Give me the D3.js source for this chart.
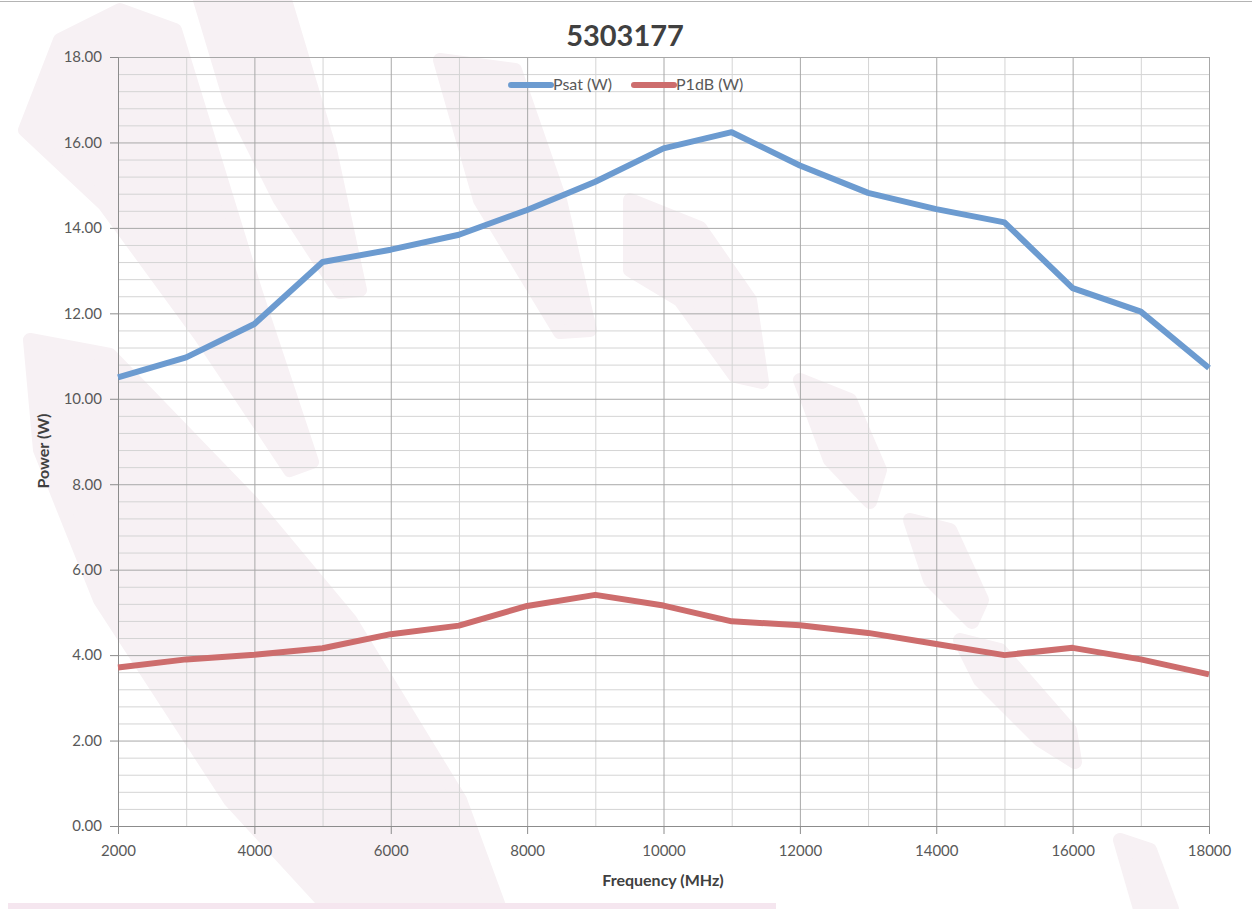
<!DOCTYPE html>
<html>
<head>
<meta charset="utf-8">
<script src="https://cdn.jsdelivr.net/npm/d3@7"></script>
<style>
  body { margin: 0; background: #fff; }
  svg { display: block; font-family: Lato, "Open Sans", sans-serif; }
</style>
</head>
<body>
<script>
// chart data
var freqs = [2000, 3000, 4000, 5000, 6000, 7000, 8000, 9000, 10000, 11000, 12000, 13000, 14000, 15000, 16000, 17000, 18000];
var psat = [10.50, 10.97, 11.75, 13.20, 13.49, 13.84, 14.42, 15.08, 15.86, 16.24, 15.46, 14.82, 14.44, 14.13, 12.59, 12.04, 10.72];
var p1db = [3.71, 3.90, 4.01, 4.16, 4.49, 4.69, 5.15, 5.41, 5.16, 4.79, 4.70, 4.52, 4.26, 4.00, 4.17, 3.90, 3.55];
var seriesNames = ["Psat (W)", "P1dB (W)"];
var xTicks = [2000, 4000, 6000, 8000, 10000, 12000, 14000, 16000, 18000];
var yTicks = [0, 2, 4, 6, 8, 10, 12, 14, 16, 18];

var w = 1252, h = 909;
var plotLeft = 118, plotRight = 1209, plotTop = 57, plotBottom = 826;
var colors = ["#6c9bd0", "#cd6d6d"];

var svg = d3.select("body").append("svg").attr("width", w).attr("height", h);

// faint watermark stripes in the background
var marks = [
  [[25,130],[60,40],[120,10],[175,30],[255,290],[312,462],[290,470],[200,335],[105,205]],
  [[200,0],[285,0],[330,150],[360,290],[340,292],[280,200],[230,100]],
  [[440,60],[515,70],[560,200],[590,330],[560,332],[480,200]],
  [[30,340],[110,355],[250,500],[350,620],[460,800],[500,909],[330,909],[230,800],[100,600],[40,450]],
  [[630,200],[700,228],[750,300],[762,382],[735,376],[680,300],[630,270]],
  [[800,380],[850,400],[880,470],[870,502],[830,460]],
  [[910,520],[950,530],[982,600],[972,622],[930,580]],
  [[960,640],[1000,650],[1070,730],[1075,762],[1040,740],[980,680]],
  [[1120,840],[1150,850],[1172,909],[1140,909]]
];
svg.selectAll("polygon.wm")
  .data(marks)
  .enter()
  .append("polygon")
  .attr("class", "wm")
  .attr("points", function(d) { return d.map(function(p) { return p.join(","); }).join(" "); })
  .attr("fill", "#f7f1f4")
  .attr("stroke", "#f7f1f4")
  .attr("stroke-width", 14)
  .attr("stroke-linejoin", "round");

// top border + bottom pink strip
svg.append("line").attr("x1", 0).attr("x2", w).attr("y1", 1.5).attr("y2", 1.5)
  .attr("stroke", "#b4b4b4").attr("stroke-width", 1);
svg.append("rect").attr("x", 8).attr("y", 903).attr("width", 768).attr("height", 6).attr("fill", "#f5e6ef");

var xScale = d3.scaleLinear().domain([2000, 18000]).range([plotLeft, plotRight]);
var yScale = d3.scaleLinear().domain([0, 18]).range([plotBottom, plotTop]);

// minor grid
svg.append("g")
  .attr("transform", "translate(0," + plotBottom + ")")
  .call(d3.axisBottom(xScale).tickValues(d3.range(3000, 18000, 2000)).tickSize(-(plotBottom - plotTop)).tickFormat(""))
  .call(function(g) { g.select(".domain").remove(); g.selectAll("line").attr("stroke", "#d4d4d4"); });
svg.append("g")
  .attr("transform", "translate(" + plotLeft + ",0)")
  .call(d3.axisLeft(yScale).tickValues(d3.range(0, 18.01, 0.4).filter(function(v) { return Math.abs(v / 2 - Math.round(v / 2)) > 0.01; }))
    .tickSize(-(plotRight - plotLeft)).tickFormat(""))
  .call(function(g) { g.select(".domain").remove(); g.selectAll("line").attr("stroke", "#d4d4d4"); });

// major grid
svg.append("g")
  .attr("transform", "translate(0," + plotBottom + ")")
  .call(d3.axisBottom(xScale).tickValues(xTicks).tickSize(-(plotBottom - plotTop)).tickFormat(""))
  .call(function(g) { g.select(".domain").remove(); g.selectAll("line").attr("stroke", "#a8a8a8"); });
svg.append("g")
  .attr("transform", "translate(" + plotLeft + ",0)")
  .call(d3.axisLeft(yScale).tickValues(yTicks).tickSize(-(plotRight - plotLeft)).tickFormat(""))
  .call(function(g) { g.select(".domain").remove(); g.selectAll("line").attr("stroke", "#a8a8a8"); });

// axes
svg.append("g")
  .attr("transform", "translate(0," + plotBottom + ")")
  .call(d3.axisBottom(xScale).tickValues(xTicks).tickSize(8).tickPadding(11).tickFormat(d3.format("d")))
  .call(function(g) {
    g.select(".domain").attr("stroke", "#8c8c8c");
    g.selectAll("line").attr("stroke", "#8c8c8c");
    g.selectAll("text").attr("font-size", "15px").attr("fill", "#595959").attr("font-family", "Lato, sans-serif");
  });
svg.append("g")
  .attr("transform", "translate(" + plotLeft + ",0)")
  .call(d3.axisLeft(yScale).tickValues(yTicks).tickSize(8).tickPadding(8).tickFormat(d3.format(".2f")))
  .call(function(g) {
    g.select(".domain").attr("stroke", "#8c8c8c");
    g.selectAll("line").attr("stroke", "#8c8c8c");
    g.selectAll("text").attr("font-size", "15px").attr("fill", "#595959").attr("font-family", "Lato, sans-serif");
  });

// series lines
var line = d3.line()
  .x(function(d) { return xScale(d[0]); })
  .y(function(d) { return yScale(d[1]); });

[psat, p1db].forEach(function(vals, i) {
  svg.append("path")
    .datum(freqs.map(function(f, j) { return [f, vals[j]]; }))
    .attr("d", line)
    .attr("fill", "none")
    .attr("stroke", colors[i])
    .attr("stroke-width", 6)
    .attr("stroke-linejoin", "round");
});

// title
svg.append("text")
  .text("5303177")
  .attr("x", 625).attr("y", 46)
  .attr("text-anchor", "middle")
  .attr("font-size", "29px")
  .attr("font-weight", "bold")
  .attr("fill", "#404040");

// axis titles
svg.append("text")
  .text("Frequency (MHz)")
  .attr("x", 663).attr("y", 886)
  .attr("text-anchor", "middle")
  .attr("font-size", "16px")
  .attr("font-weight", "bold")
  .attr("fill", "#404040");
svg.append("text")
  .text("Power (W)")
  .attr("transform", "translate(49,451) rotate(-90)")
  .attr("text-anchor", "middle")
  .attr("font-size", "16px")
  .attr("font-weight", "bold")
  .attr("fill", "#404040");

// legend
var legendX = [511, 634];
var legend = svg.selectAll("g.legend")
  .data(seriesNames)
  .enter()
  .append("g")
  .attr("class", "legend")
  .attr("transform", function(d, i) { return "translate(" + legendX[i] + ",85)"; });
legend.append("line")
  .attr("x1", 0).attr("x2", 40)
  .attr("stroke", function(d, i) { return colors[i]; })
  .attr("stroke-width", 6)
  .attr("stroke-linecap", "round");
legend.append("text")
  .text(function(d) { return d; })
  .attr("x", 42).attr("y", 5)
  .attr("font-size", "16px")
  .attr("fill", "#595959");
</script>
</body>
</html>
